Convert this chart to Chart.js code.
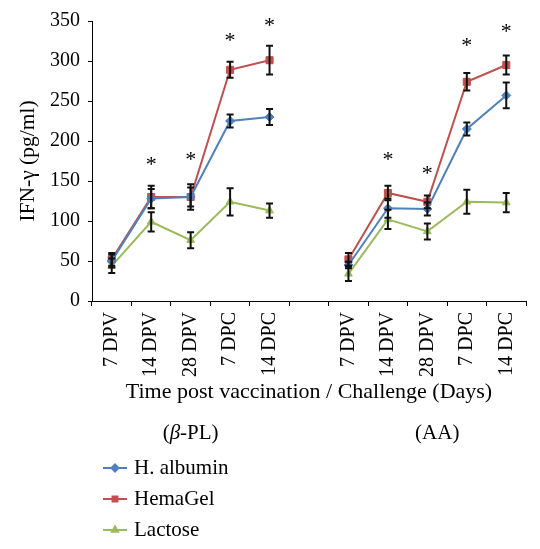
<!DOCTYPE html>
<html>
<head>
<meta charset="utf-8">
<script src="https://cdn.jsdelivr.net/npm/chart.js@4.4.1/dist/chart.umd.min.js"></script>
<style>
  html, body { margin: 0; padding: 0; background: #fff; }
  #wrap { width: 540px; height: 549px; }
</style>
</head>
<body>
<div id="wrap"><canvas id="grafico"></canvas></div>
<script>
// datos
const categorias = ['7 DPV', '14 DPV', '28 DPV', '7 DPC', '14 DPC', '', '7 DPV', '14 DPV', '28 DPV', '7 DPC', '14 DPC'];
const albumina = [50, 128, 130, 225, 230, null, 45, 116, 115, 215, 257];
const hemagel  = [52, 130, 130, 289, 301, null, 52, 135, 124, 274, 295];
const lactosa  = [44, 99, 76, 124, 113, null, 34, 102, 87, 124, 123];
const errAlbumina = [8, 12, 12, 8, 10, null, 4, 12, 8, 8, 16];
const errHemagel  = [8, 14, 16, 10, 18, null, 8, 9, 8, 11, 12];
const errLactosa  = [9, 12, 10, 17, 9, null, 9, 12, 10, 15, 12];
const asteriscos  = [null, 170, 176, 325, 344, null, null, 176, 158, 319, 336];
const yTicks = [0, 50, 100, 150, 200, 250, 300, 350];
const grupos = ['β-PL', 'AA'];
const centroGrupos = [2, 8.25];

const FUENTE = '"Liberation Serif", "Times New Roman", serif';
Chart.defaults.font.family = FUENTE;
Chart.defaults.color = '#000';

const series = [
  { label: 'H. albumin', data: albumina, err: errAlbumina, color: '#4F81BD', style: 'rectRot', r: 4.5 },
  { label: 'HemaGel', data: hemagel, err: errHemagel, color: '#C0504D', style: 'rect', r: 5 },
  { label: 'Lactose', data: lactosa, err: errLactosa, color: '#9BBB59', style: 'triangle', r: 4.5 }
];

// barras de error
const barrasError = {
  id: 'barrasError',
  afterDatasetsDraw(chart) {
    const ctx = chart.ctx;
    const y = chart.scales.y;
    ctx.save();
    ctx.strokeStyle = '#111';
    ctx.lineWidth = 2;
    chart.data.datasets.forEach((ds, i) => {
      const meta = chart.getDatasetMeta(i);
      ds.data.forEach((v, j) => {
        const e = ds.errores[j];
        if (v == null || e == null) return;
        const x = meta.data[j].x;
        const y1 = y.getPixelForValue(v + e);
        const y2 = y.getPixelForValue(v - e);
        ctx.beginPath();
        ctx.moveTo(x, y1); ctx.lineTo(x, y2);
        ctx.moveTo(x - 3.5, y1); ctx.lineTo(x + 3.5, y1);
        ctx.moveTo(x - 3.5, y2); ctx.lineTo(x + 3.5, y2);
        ctx.stroke();
      });
    });
    ctx.restore();
  }
};

// asteriscos, etiquetas de grupo y leyenda
const extras = {
  id: 'extras',
  afterDraw(chart) {
    const ctx = chart.ctx;
    const xs = chart.scales.x, ys = chart.scales.y;
    ctx.save();
    ctx.fillStyle = '#000';
    ctx.textBaseline = 'middle';
    ctx.textAlign = 'center';
    ctx.font = '22px ' + FUENTE;
    asteriscos.forEach((v, j) => {
      if (v == null) return;
      ctx.fillText('*', xs.getPixelForValue(j), ys.getPixelForValue(v));
    });

    // (β-PL)  (AA)
    const yg = 433;
    grupos.forEach((g, k) => {
      const cx = xs.getPixelForValue(centroGrupos[k]);
      const partes = g.startsWith('β')
        ? [['(', ''], ['β', 'italic '], [g.slice(1) + ')', '']]
        : [['(' + g + ')', '']];
      let total = 0;
      partes.forEach(p => { ctx.font = p[1] + '21px ' + FUENTE; total += ctx.measureText(p[0]).width; });
      let x = cx - total / 2;
      ctx.textAlign = 'left';
      partes.forEach(p => {
        ctx.font = p[1] + '21px ' + FUENTE;
        ctx.fillText(p[0], x, yg);
        x += ctx.measureText(p[0]).width;
      });
    });

    // leyenda
    ctx.font = '21px ' + FUENTE;
    ctx.textAlign = 'left';
    series.forEach((s, k) => {
      const y = 468 + k * 31;
      ctx.strokeStyle = s.color;
      ctx.lineWidth = 2;
      ctx.beginPath();
      ctx.moveTo(103, y); ctx.lineTo(127, y);
      ctx.stroke();
      ctx.fillStyle = s.color;
      Chart.helpers.drawPoint(ctx, { pointStyle: s.style, radius: 3.5, rotation: 0, borderWidth: 1 }, 115, y);
      ctx.fill();
      ctx.fillStyle = '#000';
      ctx.fillText(s.label, 134, y);
    });
    ctx.restore();
  }
};

new Chart(document.getElementById('grafico'), {
  type: 'line',
  data: {
    labels: categorias,
    datasets: series.map(s => ({
      label: s.label,
      data: s.data,
      errores: s.err,
      borderColor: s.color,
      backgroundColor: s.color,
      borderWidth: 2,
      pointStyle: s.style,
      pointRadius: s.r,
      pointBorderWidth: 1,
      spanGaps: false,
      tension: 0
    }))
  },
  options: {
    responsive: true,
    maintainAspectRatio: false,
    animation: false,
    devicePixelRatio: 1,
    layout: { padding: { top: 21, left: 12, right: 14, bottom: 144 } },
    plugins: { legend: { display: false }, tooltip: { enabled: false } },
    scales: {
      x: {
        offset: true,
        grid: { offset: true, drawOnChartArea: false, drawTicks: true, tickLength: 5, color: '#000' },
        border: { color: '#000' },
        ticks: { minRotation: 90, maxRotation: 90, autoSkip: false, padding: 6, font: { size: 20 } },
        title: { display: true, text: 'Time post vaccination / Challenge (Days)', font: { size: 22 }, padding: { top: 0, bottom: 0 } },
        afterFit(scale) { scale.height = 104; }
      },
      y: {
        min: 0,
        max: 350,
        afterBuildTicks(scale) { scale.ticks = yTicks.map(v => ({ value: v })); },
        grid: { drawOnChartArea: false, drawTicks: true, tickLength: 4, color: '#000' },
        border: { color: '#000' },
        ticks: { padding: 8, font: { size: 20 } },
        title: { display: true, text: 'IFN-γ (pg/ml)', font: { size: 21.5 }, padding: { top: 3, bottom: 0 } },
        afterFit(scale) { scale.width = 80; }
      }
    }
  },
  plugins: [barrasError, extras]
});
</script>
</body>
</html>
